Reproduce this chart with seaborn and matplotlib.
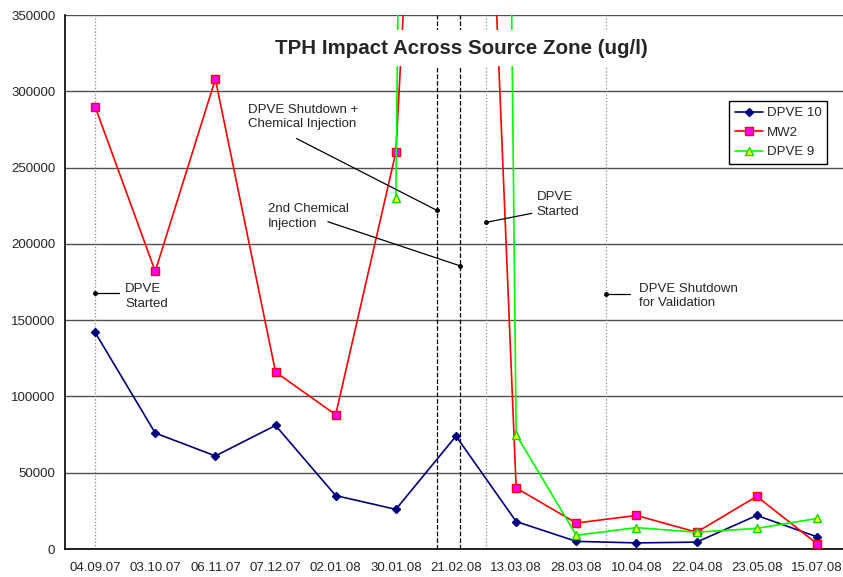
import matplotlib

matplotlib.use("Agg")

import matplotlib.pyplot as plt
import numpy as np
import pandas as pd
import seaborn as sns
from matplotlib.ticker import FixedLocator, NullFormatter


DATES = ["04.09.07", "03.10.07", "06.11.07", "07.12.07", "02.01.08", "30.01.08", "21.02.08",
         "13.03.08", "28.03.08", "10.04.08", "22.04.08", "23.05.08", "15.07.08"]
DPVE10 = [142000, 76000, 61000, 81000, 35000, 26000, 74000, 18000, 5000, 4000, 4500, 22000, 8000]
MW2 = [290000, 182000, 308000, 116000, 88000, 260000, 1000000, 40000, 17000, 22000, 11000, 34500, 3500]
DPVE9 = [np.nan, np.nan, np.nan, np.nan, np.nan, 230000, 3800000, 75000, 9000, 14000, 11000, 13500, 20000]

# event markers (category index positions)
EVENT_X = [0.0, 5.68, 6.06, 6.5, 8.5]
EVENT_STYLE = [":", "--", "--", ":", ":"]
EVENT_COLOR = ["#888888", "#000000", "#000000", "#888888", "#888888"]

# annotations: text, text pos, leader start, dot pos
NOTE_TEXT = ["DPVE\nStarted", "DPVE Shutdown +\nChemical Injection", "2nd Chemical\nInjection",
             "DPVE\nStarted", "DPVE Shutdown\nfor Validation"]
NOTE_XY = [(0.50, 165500), (2.54, 283000), (2.87, 218000), (7.34, 225800), (9.05, 166000)]
NOTE_LINE = [(0.40, 167600), (3.35, 269000), (3.87, 214500), (7.26, 220000), (8.90, 167100)]
NOTE_DOT = [(0.0, 167600), (5.68, 222000), (6.06, 185700), (6.5, 214100), (8.5, 167100)]

df = pd.DataFrame({"idx": np.arange(len(DATES)), "DPVE 10": DPVE10, "MW2": MW2, "DPVE 9": DPVE9})

sns.set_style("white")
plt.rcParams["font.family"] = ["Liberation Sans", "DejaVu Sans"]

fig = plt.figure(figsize=(8.43, 5.77), dpi=100)
ax = fig.add_axes([65 / 843, 28 / 577, 782 / 843, 534 / 577])

series = [
    ("DPVE 10", "#000080", "D", "#000080", "#000080", 4.5),
    ("MW2", "#FF0000", "s", "#FF00FF", "#FF0000", 5.5),
    ("DPVE 9", "#00FF00", "^", "#FFFF00", "#00DD00", 6),
]
for name, col, mk, fc, ec, ms in series:
    sns.lineplot(data=df.dropna(subset=[name]), x="idx", y=name, ax=ax, color=col, lw=1.2,
                 marker=mk, markersize=ms, markerfacecolor=fc, markeredgecolor=ec,
                 markeredgewidth=1, label=name, zorder=4)

for x, ls, c in zip(EVENT_X, EVENT_STYLE, EVENT_COLOR):
    ax.axvline(x, color=c, ls=ls, lw=0.9, zorder=2)

for txt, (tx, ty), (lx, ly), (dx, dy) in zip(NOTE_TEXT, NOTE_XY, NOTE_LINE, NOTE_DOT):
    ax.plot([dx, lx], [dy, ly], color="black", lw=0.9, zorder=5)
    ax.plot([dx], [dy], "o", color="black", ms=2.5, zorder=5)
    ax.text(tx, ty, txt, fontsize=9.5, va="center", ha="left", linespacing=1.25, zorder=6)

ax.set_xlim(-0.5, 12.5)
ax.set_ylim(0, 350000)
ax.set_yticks(np.arange(0, 350001, 50000))
ax.yaxis.grid(True, color="#505050", lw=1)
ax.xaxis.grid(False)
ax.set_axisbelow(True)
ax.set_xticks(np.arange(len(DATES)))
ax.set_xticklabels(DATES)
ax.xaxis.set_minor_locator(FixedLocator(np.arange(-0.5, 12.6, 1)))
ax.xaxis.set_minor_formatter(NullFormatter())
ax.tick_params(axis="x", which="major", length=0, pad=9.5, labelsize=9.5)
ax.tick_params(axis="x", which="minor", length=5, width=1, color="black", direction="out")
ax.tick_params(axis="y", length=5, width=1, color="black", direction="out", labelsize=9.5, pad=2)
ax.set_xlabel("")
ax.set_ylabel("")
for s in ["top", "right"]:
    ax.spines[s].set_visible(False)
for s in ["left", "bottom"]:
    ax.spines[s].set_color("black")
    ax.spines[s].set_linewidth(1.2)

ax.text(0.507, 0.938, "TPH Impact Across Source Zone (ug/l)", transform=ax.transAxes,
        ha="center", va="center", fontsize=14.8, fontweight="bold", zorder=7,
        bbox=dict(facecolor="white", edgecolor="none", pad=6))

leg = ax.legend(loc="upper left", bbox_to_anchor=(0.849, 0.839), borderaxespad=0, fancybox=False,
                framealpha=1, edgecolor="black", fontsize=9.5, handlelength=2.1, borderpad=0.45,
                labelspacing=0.55, handletextpad=0.3)
leg.get_frame().set_linewidth(1)
leg.set_zorder(8)

fig.savefig("out.png", dpi=100)
